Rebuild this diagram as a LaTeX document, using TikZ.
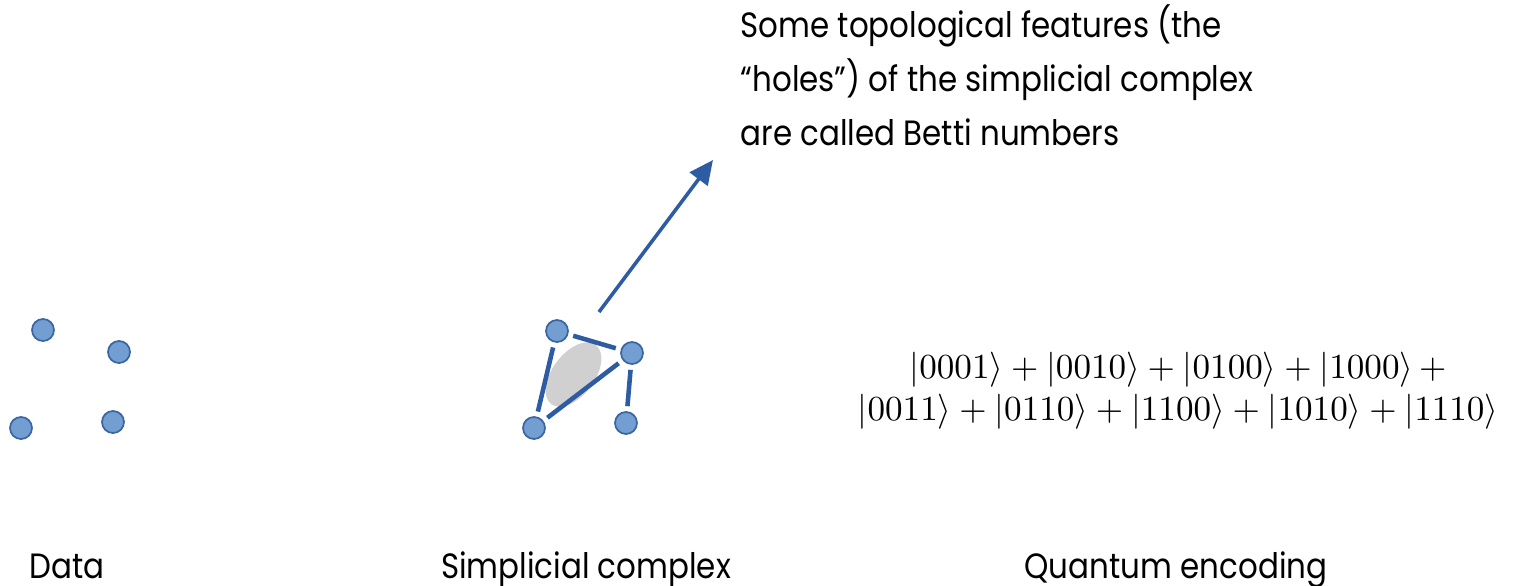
\documentclass[tikz,border=0pt]{standalone}
\usepackage[no-math]{fontspec}
\setmainfont[FakeStretch=0.88]{Poppins}
\usepackage{tikz}
\usetikzlibrary{arrows.meta,positioning,shapes.geometric}
\definecolor{dotfill}{RGB}{114,158,210}
\definecolor{dotedge}{RGB}{60,102,162}
\definecolor{linkblue}{RGB}{46,92,162}
\definecolor{holegray}{RGB}{208,208,208}

\begin{document}
\begin{tikzpicture}[
      x=0.1mm,y=-0.1mm,
      point/.style={circle,draw=dotedge,line width=0.5pt,fill=dotfill,
                    minimum size=2.2mm,inner sep=0pt},
      edge/.style={linkblue,line width=1.3pt,shorten <=0.5mm,shorten >=0.5mm},
      arrow/.style={-{Triangle[length=2.4mm,width=2.2mm]},linkblue,line width=1pt},
      caption/.style={anchor=base,font=\fontsize{10}{12}\selectfont},
    ]
    \useasboundingbox (0,0) rectangle (1513,585);

    % Data points
    \foreach \n/\p in {d1/{(43,330)},d2/{(119,352)},d3/{(21,428)},d4/{(113,422)}}
      \node[point] (\n) at \p {};

    % Simplicial complex
    \fill[holegray,rotate around={53:(573.5,374.5)}] (573.5,374.5) ellipse [x radius=3.7mm,y radius=2.1mm];
    \node[point] (s1) at (557,331) {};
    \node[point] (s2) at (632,353) {};
    \node[point] (s3) at (534,428) {};
    \node[point] (s4) at (626,423) {};
    \foreach \s/\t in {s1/s2,s1/s3,s2/s3,s2/s4}
      \draw[edge] (\s) -- (\t);

    % Betti numbers remark
    \node[anchor=north west,align=left,inner sep=0pt,
          font=\fontsize{10}{15.4}\selectfont] (betti) at (740,4) {
      Some topological features (the\\
      ``holes'') of the simplicial complex\\
      are called Betti numbers
    };
    \coordinate (from) at (599,312);
    \coordinate (tip) at (713,160);
    \draw[arrow] (from) -- (tip);

    % Quantum state
    \node[align=center,inner sep=0pt] (state) at (1178,391) {
      $|0001\rangle + |0010\rangle + |0100\rangle + |1000\rangle \,+$\\
      $|0011\rangle + |0110\rangle + |1100\rangle + |1010\rangle + |1110\rangle$
    };

    % Captions
    \node[caption] (data) at (67,578) {Data};
    \node[caption] (cplx) at (586,578) {Simplicial complex};
    \node[caption] (qenc) at (1176,578) {Quantum encoding};

  \end{tikzpicture}
\end{document}
